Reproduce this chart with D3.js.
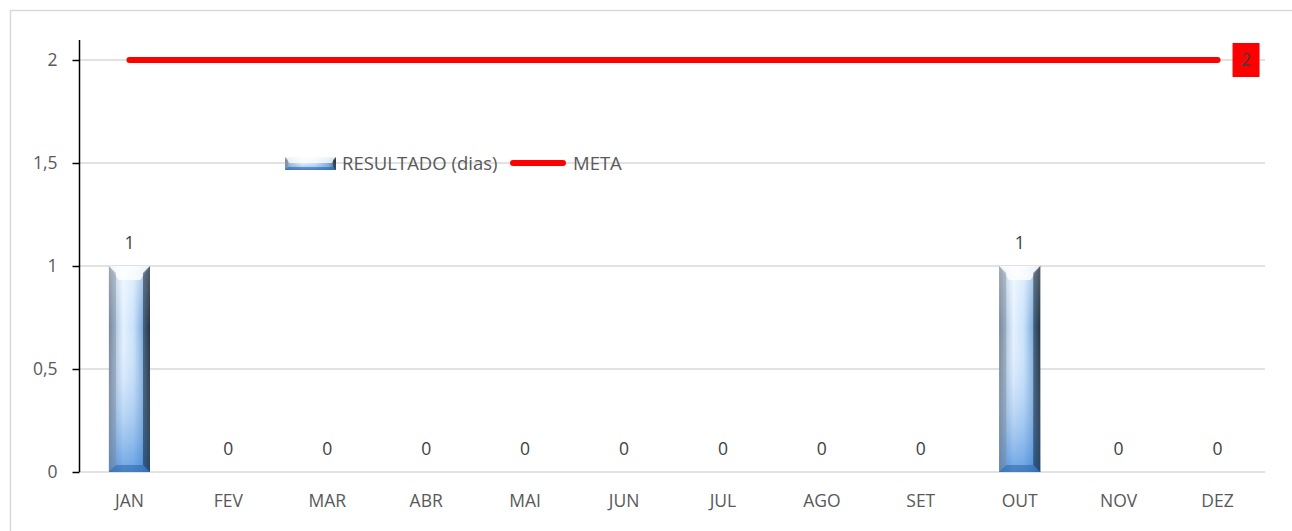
<!DOCTYPE html>
<html><head><meta charset="utf-8">
<script src="https://cdn.jsdelivr.net/npm/d3@7"></script>
<style>body{margin:0;background:#fff;}svg{display:block;font-family:"Open Sans",sans-serif;}</style>
</head><body><svg id="c" width="1292" height="531"></svg>
<script>
const months = ["JAN","FEV","MAR","ABR","MAI","JUN","JUL","AGO","SET","OUT","NOV","DEZ"];
const resultado = [1,0,0,0,0,0,0,0,0,1,0,0];
const meta = [2,2,2,2,2,2,2,2,2,2,2,2];
const yTicks = [0,0.5,1,1.5,2];
const yTickLabels = ["0","0,5","1","1,5","2"];
const legendLabels = ["RESULTADO (dias)","META"];

const FONT = "'Open Sans',sans-serif";
const FS = 18.5;
const svg = d3.select("#c");
const textCol = "#595959";
svg.append("rect").attr("x",10.5).attr("y",10.5).attr("width",1290).attr("height",540)
  .attr("fill","none").attr("stroke","#d9d9d9").attr("stroke-width",1.5);

const x = d3.scaleBand().domain(months).range([80,1267]).paddingInner(0.585).paddingOuter(0.2925);
const y = d3.scaleLinear().domain([0,2]).range([472,60]);

const defs = svg.append("defs");
const g1 = defs.append("linearGradient").attr("id","gh").attr("x1",0).attr("x2",1).attr("y1",0).attr("y2",0);
[[0,"#6e7f92"],[0.12,"#9fbad6"],[0.35,"#e2f0ff"],[0.6,"#c6e0fa"],[0.85,"#6fa2d8"],[1,"#26384a"]].forEach(s=>g1.append("stop").attr("offset",s[0]).attr("stop-color",s[1]));
const g2 = defs.append("linearGradient").attr("id","gv").attr("x1",0).attr("x2",0).attr("y1",0).attr("y2",1);
[[0,"#ffffff",0.5],[0.3,"#ffffff",0.05],[1,"#3a84d8",0.7]].forEach(s=>g2.append("stop").attr("offset",s[0]).attr("stop-color",s[1]).attr("stop-opacity",s[2]));

// gridlines
svg.append("g").selectAll("line").data(yTicks).join("line")
  .attr("x1",80).attr("x2",1265).attr("y1",d=>y(d)).attr("y2",d=>y(d))
  .attr("stroke","#d9d9d9").attr("stroke-width",1.5);

// y axis
const yAxis = d3.axisLeft(y).tickValues(yTicks).tickFormat((d,i)=>yTickLabels[i]).tickSize(7).tickPadding(15);
const ya = svg.append("g").attr("transform","translate(79.5,0)").call(yAxis);
ya.select(".domain").attr("d","M0,40V472").attr("stroke","#000").attr("stroke-width",1.5);
ya.selectAll(".tick line").attr("stroke","#000").attr("stroke-width",1.5);
ya.selectAll("text").attr("fill",textCol).attr("font-size",FS-1).attr("font-family",FONT);

// x labels
svg.append("g").selectAll("text").data(months).join("text")
  .attr("x",d=>x(d)+x.bandwidth()/2).attr("y",507).attr("text-anchor","middle")
  .attr("fill",textCol).attr("font-size",FS-1).text(d=>d);

// bars with bevel
function drawBar(gg, x0, w, yTop, yBot, b){
  gg.append("rect").attr("x",x0).attr("y",yTop).attr("width",w).attr("height",yBot-yTop).attr("fill","url(#gh)");
  gg.append("rect").attr("x",x0).attr("y",yTop).attr("width",w).attr("height",yBot-yTop).attr("fill","url(#gv)");
  const poly = (pts,fill,op)=>gg.append("polygon").attr("points",pts.map(p=>p.join(",")).join(" ")).attr("fill",fill).attr("opacity",op);
  const h = Math.min(b*2, (yBot-yTop)/2);
  poly([[x0,yTop],[x0+w,yTop],[x0+w-b*1.4,yTop+h],[x0+b*1.4,yTop+h]],"#ffffff",0.8);
  poly([[x0,yTop],[x0+b,yTop+b],[x0+b,yBot-b],[x0,yBot]],"#7d8896",0.45);
  poly([[x0+w,yTop],[x0+w-b,yTop+b],[x0+w-b,yBot-b],[x0+w,yBot]],"#1a2632",0.55);
  poly([[x0,yBot],[x0+b,yBot-b],[x0+w-b,yBot-b],[x0+w,yBot]],"#2c65a5",0.55);
}
const barsG = svg.append("g");
resultado.forEach((v,i)=>{
  if(v>0){ drawBar(barsG.append("g"), x(months[i]), x.bandwidth(), y(v), y(0), 7); }
});
// bar labels
svg.append("g").selectAll("text").data(resultado).join("text")
  .attr("x",(d,i)=>x(months[i])+x.bandwidth()/2).attr("y",d=>y(d)-17).attr("text-anchor","middle")
  .attr("fill","#404040").attr("font-size",FS-1).text(d=>d);

// meta line
const line = d3.line().x((d,i)=>x(months[i])+x.bandwidth()/2).y(d=>y(d));
svg.append("path").datum(meta).attr("d",line).attr("fill","none").attr("stroke","#ff0000")
  .attr("stroke-width",6).attr("stroke-linecap","round");
// meta label
const lastX = x(months[11])+x.bandwidth()/2, lastY = y(meta[11]);
svg.append("rect").attr("x",lastX+15).attr("y",lastY-17).attr("width",27).attr("height",34).attr("fill","#ff0000");
svg.append("text").attr("x",lastX+28.5).attr("y",lastY+6).attr("text-anchor","middle").attr("fill","#404040").attr("font-size",FS-1).text(meta[11]);

// legend
const lg = svg.append("g");
drawBar(lg.append("g"), 285, 51, 157, 170, 3);
lg.append("text").attr("x",342).attr("y",170).attr("fill",textCol).attr("font-size",FS).text(legendLabels[0]);
lg.append("line").attr("x1",513).attr("x2",563).attr("y1",163).attr("y2",163).attr("stroke","#ff0000").attr("stroke-width",6).attr("stroke-linecap","round");
lg.append("text").attr("x",573).attr("y",170).attr("fill",textCol).attr("font-size",FS).text(legendLabels[1]);
</script></body></html>
